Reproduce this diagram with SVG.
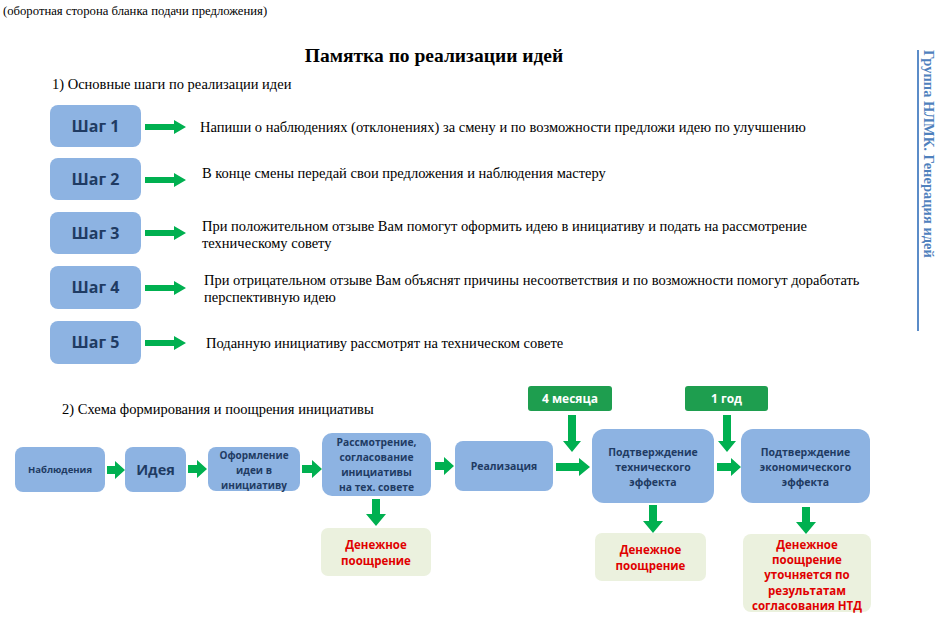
<svg xmlns="http://www.w3.org/2000/svg" width="944" height="621" viewBox="0 0 944 621">
<defs>
<style>
.step rect{fill:#8db3e2}
.step text{font-family:"Open Sans","Liberation Sans",sans-serif;font-weight:bold;font-size:16px;fill:#1f3b63;text-anchor:middle}
.fbox rect{fill:#8db3e2}
.fbox text{font-family:"Open Sans","Liberation Sans",sans-serif;font-weight:bold;fill:#1f3b63;text-anchor:middle}
.gbox rect{fill:#1e9e4f}
.gbox text{font-family:"Open Sans","Liberation Sans",sans-serif;font-weight:bold;fill:#fff;text-anchor:middle;font-size:12px}
.rbox rect{fill:#ebf1de}
.rbox text{font-family:"Open Sans","Liberation Sans",sans-serif;font-weight:bold;fill:#e00000;text-anchor:middle;font-size:11.5px}
.arr{fill:#00b050}
</style>
</defs>
<rect width="944" height="621" fill="#fff"/>
<g font-family="'Liberation Serif', 'DejaVu Serif', serif" fill="#000">
<text x="3" y="15" font-size="12.7">(оборотная сторона бланка подачи предложения)</text>
<text x="434" y="62" font-size="19.5" font-weight="bold" text-anchor="middle">Памятка по реализации идей</text>
<text x="52" y="89" font-size="14.5">1) Основные шаги по реализации идеи</text>
<text x="62" y="414" font-size="14.5">2) Схема формирования и поощрения инициативы</text>
</g>

<g id="vertical-title">
<line x1="918" y1="50" x2="918" y2="331" stroke="#5b8cc8" stroke-width="2"/>
<text x="924" y="50" transform="rotate(90 924 50)" font-family="'Liberation Serif', 'DejaVu Serif', serif" font-weight="bold" font-size="14.5" fill="#4f81bd">Группа НЛМК. Генерация идей</text>
</g>

<g id="step1" class="step"><rect x="50" y="105" width="91" height="42" rx="8"/><text x="95.5" y="132">Шаг 1</text></g>
<g id="step2" class="step"><rect x="50" y="158" width="91" height="42" rx="8"/><text x="95.5" y="185">Шаг 2</text></g>
<g id="step3" class="step"><rect x="50" y="212" width="91" height="42" rx="8"/><text x="95.5" y="239">Шаг 3</text></g>
<g id="step4" class="step"><rect x="50" y="266" width="91" height="43" rx="8"/><text x="95.5" y="293">Шаг 4</text></g>
<g id="step5" class="step"><rect x="50" y="321" width="91" height="43" rx="8"/><text x="95.5" y="348">Шаг 5</text></g>

<g id="step-texts" font-family="'Liberation Serif', 'DejaVu Serif', serif" font-size="14.5" fill="#000">
<text x="200" y="132">Напиши о наблюдениях (отклонениях) за смену и по возможности предложи идею по улучшению</text>
<text x="202" y="178">В конце смены передай свои предложения и наблюдения мастеру</text>
<text x="202" y="231">При положительном отзыве Вам помогут оформить идею в инициативу и подать на рассмотрение</text>
<text x="202" y="248">техническому совету</text>
<text x="204" y="285">При отрицательном отзыве Вам объяснят причины несоответствия и по возможности помогут доработать</text>
<text x="204" y="302">перспективную идею</text>
<text x="206" y="348">Поданную инициативу рассмотрят на техническом совете</text>
</g>

<g id="n-nabl" class="fbox" font-size="9.5"><rect x="15" y="447" width="90" height="45" rx="8"/><text x="60" y="473">Наблюдения</text></g>
<g id="n-ideya" class="fbox" font-size="14.5"><rect x="125" y="447" width="61" height="45" rx="8"/><text x="155.5" y="475">Идея</text></g>
<g id="n-oform" class="fbox" font-size="10"><rect x="208" y="447" width="92" height="44" rx="8"/><text x="254" y="459">Оформление</text><text x="254" y="474">идеи в</text><text x="254" y="489">инициативу</text></g>
<g id="n-rassm" class="fbox" font-size="10.3"><rect x="322" y="433" width="109" height="63" rx="10"/><text x="376.5" y="446">Рассмотрение,</text><text x="376.5" y="461">согласование</text><text x="376.5" y="476">инициативы</text><text x="376.5" y="491">на тех. совете</text></g>
<g id="n-real" class="fbox" font-size="10.5"><rect x="455" y="441" width="98" height="50" rx="8"/><text x="504" y="470">Реализация</text></g>
<g id="n-tech" class="fbox" font-size="10.5"><rect x="592" y="429" width="122" height="74" rx="12"/><text x="653" y="456">Подтверждение</text><text x="653" y="471">технического</text><text x="653" y="486">эффекта</text></g>
<g id="n-econ" class="fbox" font-size="10.5"><rect x="741" y="429" width="129" height="74" rx="12"/><text x="805.5" y="456">Подтверждение</text><text x="805.5" y="471">экономического</text><text x="805.5" y="486">эффекта</text></g>

<g id="t-4m" class="gbox"><rect x="528" y="386" width="84" height="25" rx="3"/><text x="570" y="403">4 месяца</text></g>
<g id="t-1y" class="gbox"><rect x="685" y="386" width="83" height="25" rx="3"/><text x="726.5" y="403">1 год</text></g>

<g id="r1" class="rbox"><rect x="321" y="528" width="110" height="48" rx="7"/><text x="376" y="549">Денежное</text><text x="376" y="565">поощрение</text></g>
<g id="r2" class="rbox"><rect x="595" y="533" width="111" height="48" rx="7"/><text x="650.5" y="554">Денежное</text><text x="650.5" y="570">поощрение</text></g>
<g id="r3" class="rbox"><rect x="743" y="534" width="128" height="78" rx="8"/><text x="807" y="549">Денежное</text><text x="807" y="564">поощрение</text><text x="807" y="579">уточняется по</text><text x="807" y="595">результатам</text><text x="807" y="610">согласования НТД</text></g>

<g id="connectors" class="arr">
<polygon points="145,124 174,124 174,120 186,127 174,134 174,130 145,130"/>
<polygon points="145,177 174,177 174,173 186,180 174,187 174,183 145,183"/>
<polygon points="145,230 174,230 174,226 186,233 174,240 174,236 145,236"/>
<polygon points="145,285 174,285 174,281 186,288 174,295 174,291 145,291"/>
<polygon points="145,340 174,340 174,336 186,343 174,350 174,346 145,346"/>

<polygon points="107,466 115,466 115,461 125,470 115,479 115,474 107,474"/>
<polygon points="188,465 197,465 197,460 207,469 197,478 197,473 188,473"/>
<polygon points="302,465 312,465 312,460 322,469 312,478 312,473 302,473"/>
<polygon points="435,462 444,462 444,457 454,466 444,475 444,470 435,470"/>
<polygon points="556,463 579,463 579,458 590,467 579,476 579,471 556,471"/>
<polygon points="717,463 731,463 731,458 741,467 731,476 731,471 717,471"/>

<polygon points="568,415 576,415 576,441 581,441 572,452 563,441 568,441"/>
<polygon points="723,415 731,415 731,441 736,441 727,452 718,441 723,441"/>
<polygon points="372,499 380,499 380,514 386,514 376,526 366,514 372,514"/>
<polygon points="649,505 657,505 657,521 663,521 653,533 643,521 649,521"/>
<polygon points="802,507 810,507 810,522 816,522 806,534 796,522 802,522"/>
</g>
</svg>
